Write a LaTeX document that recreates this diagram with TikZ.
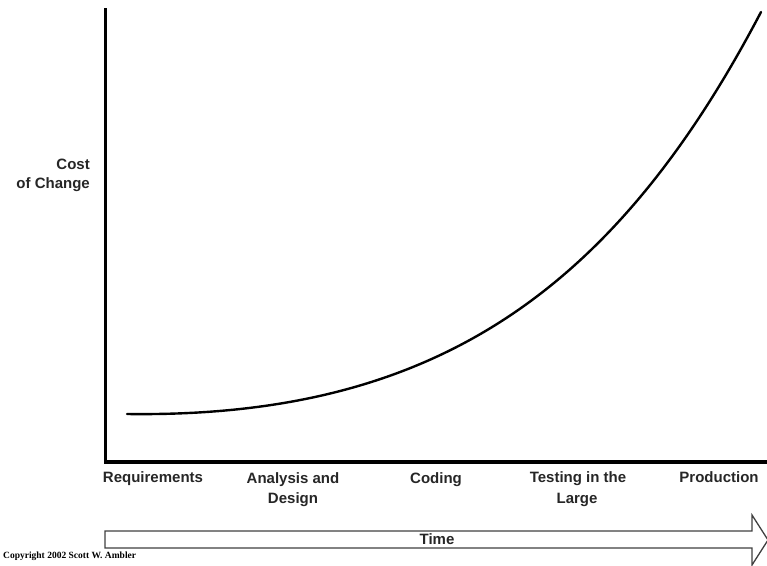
\documentclass[tikz,border=0pt]{standalone}
\usepackage{fontspec}
\setmainfont{Liberation Sans}
\newfontfamily\cpyfont{Liberation Serif}
\begin{document}
\begin{tikzpicture}[x=1pt,y=-1pt,
  lbl/.style={font=\fontsize{15}{19}\selectfont\bfseries, text=black!85, inner sep=0pt, align=center},
  axisline/.style={line width=3.5pt, line cap=rect},
  curveline/.style={line width=2.4pt, line cap=round},
  timearrow/.style={draw=black!75, line width=1.3pt, fill=white, line join=miter}]
\useasboundingbox (0,0) rectangle (767,565);
\coordinate (top) at (105.5,10);
\coordinate (origin) at (105.5,462);
\coordinate (right) at (770,462);
\draw[axisline] (top) -- (origin) -- (right);
\coordinate (cstart) at (127,414);
\coordinate (cend) at (761,12);
\draw[curveline] (cstart) .. controls (427,418) and (611,298.5) .. (cend);
\node[lbl, align=right, anchor=east] (cost) at (90,175) {Cost\\of Change};
\node[lbl, anchor=base] (req) at (153,482) {Requirements};
\node[lbl, anchor=base] (ana) at (293,483) {Analysis and};
\node[lbl, anchor=base] (des) at (293,503) {Design};
\node[lbl, anchor=base] (cod) at (436,483) {Coding};
\node[lbl, anchor=base] (tes) at (578,482) {Testing in the};
\node[lbl, anchor=base] (lar) at (577,503) {Large};
\node[lbl, anchor=base] (pro) at (719,482) {Production};
\draw[timearrow] (105,531) -- (752,531) -- (752,515) -- (768,540) -- (752,565) -- (752,548) -- (105,548) -- cycle;
\node[lbl, anchor=center] (time) at (437,539) {Time};
\node[font=\cpyfont\fontsize{9.5}{10}\selectfont\bfseries, inner sep=0pt, anchor=west] (copy) at (3,556) {Copyright 2002 Scott W. Ambler};
\end{tikzpicture}
\end{document}
